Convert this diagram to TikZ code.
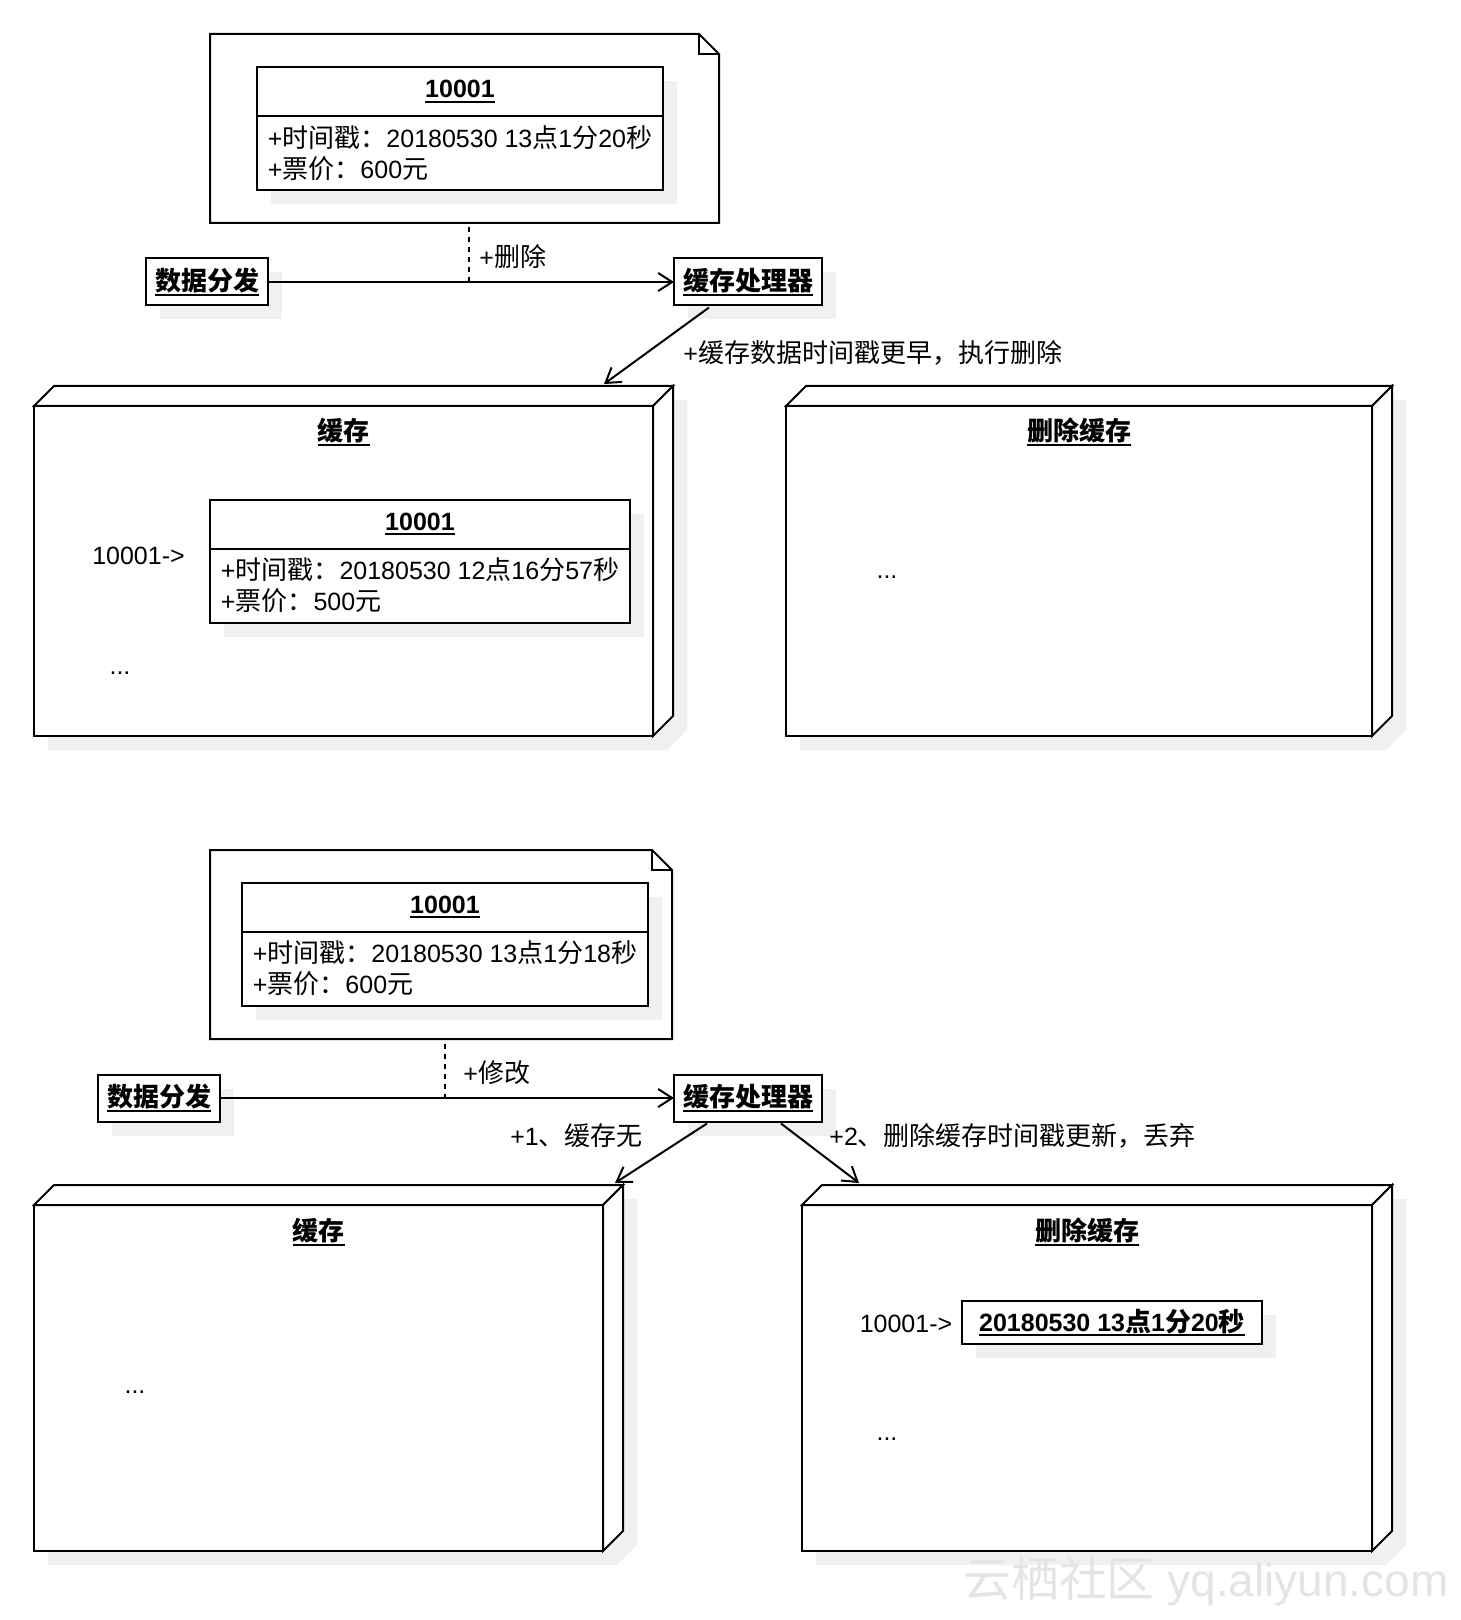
\documentclass[tikz,border=0pt]{standalone}
\usepackage{fontspec}
\setmainfont{Liberation Sans}
\newfontfamily\zhfont[Scale=1.04]{Noto Sans CJK SC}
\newcommand{\zh}[1]{{\zhfont #1}}
\newsavebox{\ulnbox}
\newcommand{\uln}[1]{\sbox\ulnbox{#1}\rlap{\rule[-2.6pt]{\wd\ulnbox}{1pt}}\usebox\ulnbox}
\usepackage{tikz}
\usetikzlibrary{arrows.meta,positioning,calc,shadows}
\definecolor{umledge}{RGB}{0,0,0}
\definecolor{umlshadow}{RGB}{240,240,240}
\definecolor{umlmark}{RGB}{228,228,228}
\tikzset{
  umlbox/.style={
    draw=umledge, line width=1pt, fill=white, inner sep=0pt, outer sep=0pt,
    align=center, font=\fontsize{12.5}{15.5}\selectfont
  },
  shd/.style={drop shadow={shadow xshift=7pt, shadow yshift=-7pt, fill=umlshadow, opacity=1}},
  clshead/.style={umlbox, shd, minimum height=24.5pt, font=\fontsize{12.5}{15.5}\selectfont\bfseries},
  clsbody/.style={umlbox, shd, minimum height=37pt, align=left},
  actor/.style={umlbox, shd, minimum height=23.5pt, font=\fontsize{12.5}{15.5}\selectfont\bfseries},
  lbl/.style={font=\fontsize{12.5}{15.5}\selectfont, inner sep=0pt},
  ttl/.style={lbl, font=\fontsize{12.5}{15.5}\selectfont\bfseries},
  edge/.style={draw=umledge, line width=1pt, line join=miter},
  arr/.style={edge, -{Straight Barb[length=7pt,width=9pt]}},
  darr/.style={edge, dash pattern=on 2.5pt off 2.5pt}
}

\begin{document}
\begin{tikzpicture}[x=0.5pt,y=-0.5pt]
  \useasboundingbox (0,0) rectangle (1460,1620);
  % Case 1: older cached entry gets deleted.
  \draw[edge, fill=white] (210,34) -- (699,34) -- (719,54) -- (719,223) -- (210,223) -- cycle;
  \draw[edge] (699,34) -- (699,54) -- (719,54);
  \node[clshead, minimum width=203pt] (objA) at (460,91.5) {\uln{10001}};
  \node[clsbody, minimum width=203pt, below=0pt of objA] (objAbody)
    {+\zh{时间戳：}20180530 13\zh{点}1\zh{分}20\zh{秒}\\+\zh{票价：}600\zh{元}};
  \node[actor, minimum width=61pt] (feedA) at (207,282) {\uln{\zh{数据分发}}};
  \node[actor, minimum width=74pt] (procA) at (748,282) {\uln{\zh{缓存处理器}}};
  \coordinate (noteAfoot) at (469,227);
  \coordinate (joinA) at (469,282);
  \draw[arr] (feedA) -- (procA);
  \draw[darr] (noteAfoot) -- (joinA);
  \node[lbl, anchor=west] (delTag) at (479,257) {+\zh{删除}};
  % cache node
  \fill[umlshadow] (48,420) -- (68,400) -- (687,400) -- (687,730) -- (667,750) -- (48,750) -- cycle;
  \draw[edge, fill=white] (34,406) rectangle (653,736);
  \draw[edge, fill=white] (34,406) -- (54,386) -- (673,386) -- (653,406) -- cycle;
  \draw[edge, fill=white] (653,406) -- (673,386) -- (673,716) -- (653,736) -- cycle;
  \node[ttl] (cacheAttl) at (343.5,432) {\uln{\zh{缓存}}};
  \node[lbl] (keyA) at (138.5,556) {10001->};
  \node[clshead, minimum width=210pt] (objB) at (420,524) {\uln{10001}};
  \node[clsbody, minimum width=210pt, below=0pt of objB] (objBbody)
    {+\zh{时间戳：}20180530 12\zh{点}16\zh{分}57\zh{秒}\\+\zh{票价：}500\zh{元}};
  \node[lbl] (moreA) at (120,673) {...};
  % deleted node
  \fill[umlshadow] (800,420) -- (820,400) -- (1406,400) -- (1406,730) -- (1386,750) -- (800,750) -- cycle;
  \draw[edge, fill=white] (786,406) rectangle (1372,736);
  \draw[edge, fill=white] (786,406) -- (806,386) -- (1392,386) -- (1372,406) -- cycle;
  \draw[edge, fill=white] (1372,406) -- (1392,386) -- (1392,716) -- (1372,736) -- cycle;
  \node[ttl] (delAttl) at (1079,432) {\uln{\zh{删除缓存}}};
  \node[lbl] (moreB) at (887,577) {...};
  \coordinate (cacheAin) at (604,384);
  \draw[arr] ($(procA.south)+(-39,2)$) -- (cacheAin);
  \node[lbl, anchor=west] (ruleA) at (683,353) {+\zh{缓存数据时间戳更早，执行删除}};

  % Case 2: no cache entry, deleted record is newer.
  \draw[edge, fill=white] (210,850) -- (652,850) -- (672,870) -- (672,1039) -- (210,1039) -- cycle;
  \draw[edge] (652,850) -- (652,870) -- (672,870);
  \node[clshead, minimum width=203pt] (objC) at (445,907) {\uln{10001}};
  \node[clsbody, minimum width=203pt, below=0pt of objC] (objCbody)
    {+\zh{时间戳：}20180530 13\zh{点}1\zh{分}18\zh{秒}\\+\zh{票价：}600\zh{元}};
  \node[actor, minimum width=61pt] (feedB) at (159,1098) {\uln{\zh{数据分发}}};
  \node[actor, minimum width=74pt] (procB) at (748,1098) {\uln{\zh{缓存处理器}}};
  \coordinate (noteBfoot) at (445,1044);
  \coordinate (joinB) at (445,1098);
  \draw[arr] (feedB) -- (procB);
  \draw[darr] (noteBfoot) -- (joinB);
  \node[lbl, anchor=west] (modTag) at (463,1073) {+\zh{修改}};
  % cache node
  \fill[umlshadow] (48,1219) -- (68,1199) -- (637,1199) -- (637,1545) -- (617,1565) -- (48,1565) -- cycle;
  \draw[edge, fill=white] (34,1205) rectangle (603,1551);
  \draw[edge, fill=white] (34,1205) -- (54,1185) -- (623,1185) -- (603,1205) -- cycle;
  \draw[edge, fill=white] (603,1205) -- (623,1185) -- (623,1531) -- (603,1551) -- cycle;
  \node[ttl] (cacheBttl) at (318.5,1232) {\uln{\zh{缓存}}};
  \node[lbl] (moreC) at (135,1392) {...};
  % deleted node
  \fill[umlshadow] (816,1219) -- (836,1199) -- (1406,1199) -- (1406,1545) -- (1386,1565) -- (816,1565) -- cycle;
  \draw[edge, fill=white] (802,1205) rectangle (1372,1551);
  \draw[edge, fill=white] (802,1205) -- (822,1185) -- (1392,1185) -- (1372,1205) -- cycle;
  \draw[edge, fill=white] (1372,1205) -- (1392,1185) -- (1392,1531) -- (1372,1551) -- cycle;
  \node[ttl] (delBttl) at (1087,1232) {\uln{\zh{删除缓存}}};
  \node[lbl] (keyB) at (906,1324) {10001->};
  \node[actor, minimum width=150pt, minimum height=21.5pt] (stampB) at (1112,1322.5)
    {\uln{20180530 13\zh{点}1\zh{分}20\zh{秒}}};
  \node[lbl] (moreD) at (887,1439) {...};
  \coordinate (cacheBin) at (615,1183);
  \coordinate (delBin) at (859,1183);
  \draw[arr] ($(procB.south)+(-41,2)$) -- (cacheBin);
  \draw[arr] ($(procB.south)+(33,2)$) -- (delBin);
  \node[lbl] (missTag) at (576.5,1136) {+1\zh{、缓存无}};
  \node[lbl, anchor=west] (dropTag) at (829,1136) {+2\zh{、删除缓存时间戳更新，丢弃}};

  \node[font=\fontsize{23}{23}\selectfont, text=umlmark, inner sep=0pt] (mark) at (1206,1581)
    {\zh{云栖社区} yq.aliyun.com};
\end{tikzpicture}
\end{document}
